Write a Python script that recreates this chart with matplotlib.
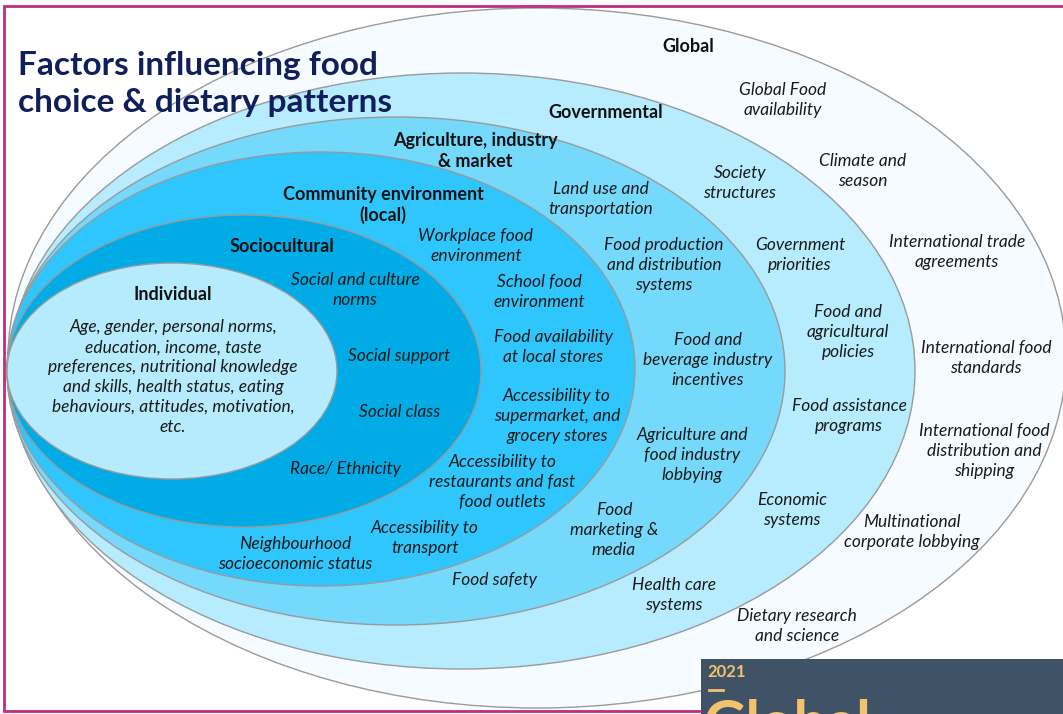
import matplotlib.pyplot as plt
from matplotlib.patches import Ellipse, Rectangle

# layers, outermost first
layers = ['Global', 'Governmental', 'Agriculture, industry\n& market',
          'Community environment\n(local)', 'Sociocultural', 'Individual']

global_factors = ['Global Food\navailability', 'Climate and\nseason',
                  'International trade\nagreements', 'International food\nstandards',
                  'International food\ndistribution and\nshipping',
                  'Multinational\ncorporate lobbying', 'Dietary research\nand science']
governmental_factors = ['Society\nstructures', 'Government\npriorities',
                        'Food and\nagricultural\npolicies', 'Food assistance\nprograms',
                        'Economic\nsystems', 'Health care\nsystems']
agriculture_factors = ['Land use and\ntransportation',
                       'Food production\nand distribution\nsystems',
                       'Food and\nbeverage industry\nincentives',
                       'Agriculture and\nfood industry\nlobbying',
                       'Food\nmarketing &\nmedia', 'Food safety']
community_factors = ['Workplace food\nenvironment', 'School food\nenvironment',
                     'Food availability\nat local stores',
                     'Accessibility to\nsupermarket, and\ngrocery stores',
                     'Accessibility to\nrestaurants and fast\nfood outlets',
                     'Accessibility to\ntransport',
                     'Neighbourhood\nsocioeconomic status']
sociocultural_factors = ['Social and culture\nnorms', 'Social support',
                         'Social class', 'Race/ Ethnicity']
individual_factors = ['Age, gender, personal norms,\neducation, income, taste\n'
                      'preferences, nutritional knowledge\nand skills, health status, eating\n'
                      'behaviours, attitudes, motivation,\netc.']

factors = [global_factors, governmental_factors, agriculture_factors,
           community_factors, sociocultural_factors, individual_factors]

# layout (pixel coords, y downwards)
ellipses = [  # cx, cy, width, height
    (537, 358, 1058, 700),
    (462, 371, 906, 596),
    (396, 371, 778, 508),
    (321, 369, 628, 434),
    (244, 371, 474, 312),
    (172, 371, 330, 216),
]
colors = ['#f5fbfe', '#b6ecfd', '#75d9fc', '#2ec6fc', '#00abe6', '#b5ebfc']
title_pos = [(688, 47), (606, 113), (475, 151), (383, 205), (282, 247), (173, 295)]
factor_pos = [
    [(783, 100), (863, 171), (957, 252), (986, 358), (984, 451), (912, 532), (797, 626)],
    [(740, 183), (800, 255), (848, 332), (849, 416), (792, 510), (674, 595)],
    [(601, 199), (664, 265), (708, 360), (692, 455), (614, 530), (494, 580)],
    [(476, 246), (539, 292), (553, 347), (557, 416), (502, 482), (425, 538), (295, 554)],
    [(355, 290), (399, 356), (400, 412), (346, 469)],
    [(173, 377)],
]

plt.rcParams['font.family'] = ['Lato', 'DejaVu Sans']

fig = plt.figure(figsize=(10.63, 7.14), dpi=100)
ax = fig.add_axes([0, 0, 1, 1])
ax.set_xlim(0, 1063)
ax.set_ylim(714, 0)
ax.axis('off')

for (cx, cy, w, h), c in zip(ellipses, colors):
    ax.add_patch(Ellipse((cx, cy), w, h, facecolor=c, edgecolor='#9a9a9a', lw=1))

for name, pos in zip(layers, title_pos):
    ax.text(*pos, name, ha='center', va='center', fontsize=13,
            fontweight='bold', color='#111111', linespacing=1.25)

for group, positions in zip(factors, factor_pos):
    for label, pos in zip(group, positions):
        ax.text(*pos, label, ha='center', va='center', fontsize=12.5,
                style='italic', color='#1a1a1a', linespacing=1.3)

ax.text(18, 84, 'Factors influencing food\nchoice & dietary patterns',
        ha='left', va='center', fontsize=24, fontweight='bold',
        color='#0f1f5c', linespacing=1.33)

# magenta frame
ax.plot([1063, 4, 4, 700], [6, 6, 711, 711], color='#bf2c82', lw=2,
        solid_joinstyle='miter')

# report cover corner
ax.add_patch(Rectangle((701, 659), 362, 60, facecolor='#3f5266', edgecolor='none'))
ax.text(707, 672, '2021', ha='left', va='center', fontsize=12,
        fontweight='bold', color='#f2c26f')
ax.plot([709, 723], [690, 690], color='#f2c26f', lw=2)
ax.text(704, 742, 'Global', ha='left', va='baseline', fontsize=42,
        fontweight='bold', color='#f2c26f')

fig.savefig('out.png', dpi=100)
